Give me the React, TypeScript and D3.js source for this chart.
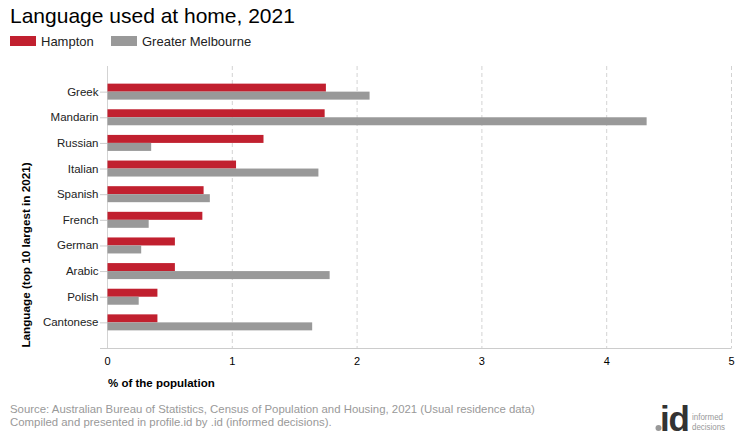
import React from "react";
import * as d3 from "d3";

const categories = ["Greek", "Mandarin", "Russian", "Italian", "Spanish", "French", "German", "Arabic", "Polish", "Cantonese"];
const hampton = [1.75, 1.74, 1.25, 1.03, 0.77, 0.76, 0.54, 0.54, 0.4, 0.4];
const greaterMelbourne = [2.1, 4.32, 0.35, 1.69, 0.82, 0.33, 0.27, 1.78, 0.25, 1.64];
const xTicks = [0, 1, 2, 3, 4, 5];
const seriesNames = ["Hampton", "Greater Melbourne"];
const seriesColors = ["#C1202F", "#999999"];

const FONT = "'Liberation Sans', Arial, sans-serif";

export default function App() {
  const W = 740, H = 440;
  const x = d3.scaleLinear().domain([0, 5]).range([107.5, 731.5]);
  const y = d3.scalePoint<string>().domain(categories).range([66, 348]).padding(1);
  const barH = 8;
  const top = 66, bottom = 348;

  return (
    <svg width={W} height={H} style={{ position: "absolute", left: 0, top: 0, fontFamily: FONT }}>
      <rect x={0} y={0} width={W} height={H} fill="#fff" />
      <text x={10} y={23} fontSize={21} fill="#000">Language used at home, 2021</text>
      {seriesNames.map((n, i) => {
        const lx = i === 0 ? 10 : 111;
        return (
          <g key={n}>
            <rect x={lx} y={36} width={26} height={10} fill={seriesColors[i]} />
            <text x={lx + 31} y={46} fontSize={13} fill="#222">{n}</text>
          </g>
        );
      })}
      {xTicks.map((t) => (
        <line key={"g" + t} x1={x(t)} x2={x(t)} y1={top} y2={bottom} stroke="#d3d3d3" strokeDasharray={t === 0 ? undefined : "4,3"} />
      ))}
      <line x1={100} x2={731.5} y1={bottom + 0.5} y2={bottom + 0.5} stroke="#cccccc" />
      {categories.map((c, i) => {
        const cy = y(c)!;
        return (
          <g key={c}>
            <rect x={x(0)} y={cy - barH} width={x(hampton[i]) - x(0)} height={barH} fill={seriesColors[0]} />
            <rect x={x(0)} y={cy} width={x(greaterMelbourne[i]) - x(0)} height={barH} fill={seriesColors[1]} />
            <line x1={100} x2={107} y1={cy + 0.5} y2={cy + 0.5} stroke="#cccccc" />
            <text x={98.5} y={cy + 4} fontSize={11.5} textAnchor="end" fill="#222">{c}</text>
          </g>
        );
      })}
      {xTicks.map((t) => (
        <text key={"t" + t} x={x(t)} y={365} fontSize={11} textAnchor="middle" fill="#000">{t}</text>
      ))}
      <text x={108} y={387} fontSize={11.5} fontWeight="bold" fill="#000">% of the population</text>
      <text transform="translate(30,255) rotate(-90)" fontSize={11.7} fontWeight="bold" textAnchor="middle" fill="#000">
        Language (top 10 largest in 2021)
      </text>
      <text x={10} y={413} fontSize={11.4} fill="#999">Source: Australian Bureau of Statistics, Census of Population and Housing, 2021 (Usual residence data)</text>
      <text x={10} y={426} fontSize={11.4} fill="#999">Compiled and presented in profile.id by .id (informed decisions).</text>
      <g>
        <circle cx={658.5} cy={428} r={3} fill="#999" />
        <text x={689} y={431} fontSize={35} fontWeight="bold" fill="#333" textAnchor="end" letterSpacing={-1}>id</text>
        <text x={692} y={420} fontSize={9} fill="#999" textLength={31} lengthAdjust="spacingAndGlyphs">informed</text>
        <text x={692} y={430} fontSize={9} fill="#999" textLength={33} lengthAdjust="spacingAndGlyphs">decisions</text>
      </g>
    </svg>
  );
}
